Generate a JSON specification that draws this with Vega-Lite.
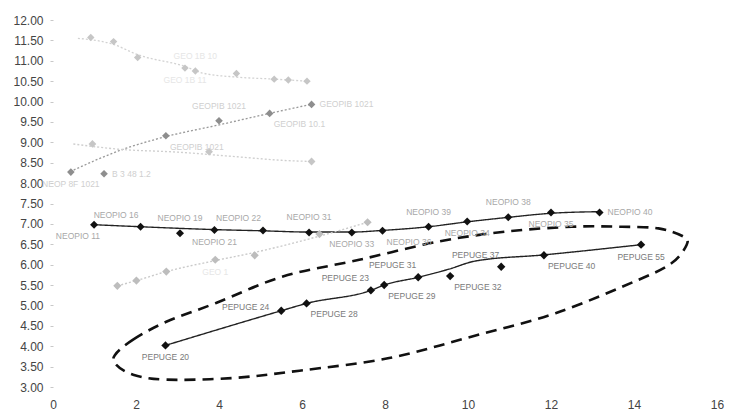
{
  "$schema": "https://vega.github.io/schema/vega-lite/v6.json",
  "width": 664,
  "height": 367,
  "autosize": "none",
  "padding": {"left": 53, "top": 20, "right": 12, "bottom": 24},
  "background": "white",
  "config": {
    "view": {"stroke": null},
    "axis": {"grid": false, "domain": false, "labelFont": "Liberation Sans", "labelFontSize": 12, "labelColor": "#444", "title": null}
  },
  "datasets": {
    "pts": [
      {"s": "A", "x": 0.91, "y": 11.57, "label": "", "pos": "none"},
      {"s": "A", "x": 1.46, "y": 11.47, "label": "", "pos": "none"},
      {"s": "A", "x": 2.04, "y": 11.08, "label": "", "pos": "none"},
      {"s": "A", "x": 3.18, "y": 10.82, "label": "GEO 1B 11", "pos": "below"},
      {"s": "A", "x": 3.43, "y": 10.75, "label": "GEO 1B 10", "pos": "above"},
      {"s": "A", "x": 4.42, "y": 10.69, "label": "", "pos": "none"},
      {"s": "A", "x": 5.33, "y": 10.55, "label": "", "pos": "none"},
      {"s": "A", "x": 5.67, "y": 10.53, "label": "", "pos": "none"},
      {"s": "A", "x": 6.12, "y": 10.50, "label": "", "pos": "none"},
      {"s": "B", "x": 0.43, "y": 8.27, "label": "NEOP 8F 1021", "pos": "below"},
      {"s": "B", "x": 1.23, "y": 8.23, "label": "B 3 48 1.2", "pos": "right"},
      {"s": "B", "x": 2.72, "y": 9.16, "label": "GEOPIB 1021", "pos": "belowright"},
      {"s": "B", "x": 4.00, "y": 9.53, "label": "GEOPIB 1021", "pos": "above"},
      {"s": "B", "x": 5.22, "y": 9.71, "label": "GEOPIB 10.1", "pos": "belowright"},
      {"s": "B", "x": 6.23, "y": 9.93, "label": "GEOPIB 1021", "pos": "right"},
      {"s": "C", "x": 0.95, "y": 8.96, "label": "", "pos": "none"},
      {"s": "C", "x": 3.76, "y": 8.77, "label": "", "pos": "none"},
      {"s": "C", "x": 6.23, "y": 8.53, "label": "", "pos": "none"},
      {"s": "D", "x": 0.99, "y": 6.98, "label": "NEOPIO 11", "pos": "belowleft"},
      {"s": "D", "x": 2.11, "y": 6.93, "label": "NEOPIO 16", "pos": "aboveleft"},
      {"s": "D", "x": 3.06, "y": 6.77, "label": "NEOPIO 19", "pos": "above"},
      {"s": "D", "x": 3.89, "y": 6.85, "label": "NEOPIO 21", "pos": "below"},
      {"s": "D", "x": 5.06, "y": 6.84, "label": "NEOPIO 22", "pos": "aboveleft"},
      {"s": "D", "x": 6.17, "y": 6.79, "label": "NEOPIO 31", "pos": "above"},
      {"s": "D", "x": 7.20, "y": 6.79, "label": "NEOPIO 33", "pos": "below"},
      {"s": "D", "x": 7.94, "y": 6.83, "label": "NEOPIO 36", "pos": "belowright"},
      {"s": "D", "x": 9.05, "y": 6.93, "label": "NEOPIO 39", "pos": "above"},
      {"s": "D", "x": 9.98, "y": 7.06, "label": "NEOPIO 34", "pos": "below"},
      {"s": "D", "x": 10.97, "y": 7.16, "label": "NEOPIO 38", "pos": "above"},
      {"s": "D", "x": 12.00, "y": 7.28, "label": "NEOPIO 35", "pos": "below"},
      {"s": "D", "x": 13.17, "y": 7.28, "label": "NEOPIO 40", "pos": "right"},
      {"s": "E", "x": 1.55, "y": 5.48, "label": "", "pos": "none"},
      {"s": "E", "x": 2.01, "y": 5.61, "label": "", "pos": "none"},
      {"s": "E", "x": 2.73, "y": 5.83, "label": "", "pos": "none"},
      {"s": "E", "x": 3.91, "y": 6.12, "label": "GEO 1", "pos": "below"},
      {"s": "E", "x": 4.86, "y": 6.23, "label": "", "pos": "none"},
      {"s": "E", "x": 6.42, "y": 6.75, "label": "", "pos": "none"},
      {"s": "E", "x": 7.58, "y": 7.04, "label": "", "pos": "none"},
      {"s": "F", "x": 2.71, "y": 4.02, "label": "PEPUGE 20", "pos": "below"},
      {"s": "F", "x": 5.50, "y": 4.87, "label": "PEPUGE 24", "pos": "left"},
      {"s": "F", "x": 6.11, "y": 5.05, "label": "PEPUGE 28", "pos": "belowright"},
      {"s": "F", "x": 7.66, "y": 5.37, "label": "PEPUGE 23", "pos": "aboveleft"},
      {"s": "F", "x": 7.98, "y": 5.50, "label": "PEPUGE 29", "pos": "belowright"},
      {"s": "F", "x": 8.80, "y": 5.69, "label": "PEPUGE 31", "pos": "aboveleft"},
      {"s": "F", "x": 9.57, "y": 5.72, "label": "PEPUGE 32", "pos": "belowright"},
      {"s": "F", "x": 10.80, "y": 5.95, "label": "PEPUGE 37", "pos": "aboveleft"},
      {"s": "F", "x": 11.83, "y": 6.23, "label": "PEPUGE 40", "pos": "belowright"},
      {"s": "F", "x": 14.17, "y": 6.49, "label": "PEPUGE 55", "pos": "below"}
    ],
    "trend": [
      {"s": "A", "i": 1, "x": 0.6, "y": 11.55},
      {"s": "A", "i": 2, "x": 1.46, "y": 11.4},
      {"s": "A", "i": 3, "x": 2.04, "y": 11.15},
      {"s": "A", "i": 4, "x": 3.18, "y": 10.86},
      {"s": "A", "i": 5, "x": 3.6, "y": 10.7},
      {"s": "A", "i": 6, "x": 4.42, "y": 10.6},
      {"s": "A", "i": 7, "x": 5.33, "y": 10.55},
      {"s": "A", "i": 8, "x": 6.12, "y": 10.5},
      {"s": "B", "i": 1, "x": 0.41, "y": 8.28},
      {"s": "B", "i": 2, "x": 1.69, "y": 8.83},
      {"s": "B", "i": 3, "x": 2.72, "y": 9.14},
      {"s": "B", "i": 4, "x": 4.01, "y": 9.43},
      {"s": "B", "i": 5, "x": 5.22, "y": 9.71},
      {"s": "B", "i": 6, "x": 6.26, "y": 9.94},
      {"s": "C", "i": 1, "x": 0.49, "y": 8.96},
      {"s": "C", "i": 2, "x": 1.6, "y": 8.83},
      {"s": "C", "i": 3, "x": 3.0, "y": 8.76},
      {"s": "C", "i": 4, "x": 4.5, "y": 8.64},
      {"s": "C", "i": 5, "x": 5.5, "y": 8.56},
      {"s": "C", "i": 6, "x": 6.23, "y": 8.53},
      {"s": "D", "i": 1, "x": 0.99, "y": 6.98},
      {"s": "D", "i": 2, "x": 2.11, "y": 6.93},
      {"s": "D", "i": 3, "x": 3.89, "y": 6.86},
      {"s": "D", "i": 4, "x": 5.06, "y": 6.83},
      {"s": "D", "i": 5, "x": 6.17, "y": 6.8},
      {"s": "D", "i": 6, "x": 7.2, "y": 6.8},
      {"s": "D", "i": 7, "x": 7.94, "y": 6.84},
      {"s": "D", "i": 8, "x": 9.05, "y": 6.93},
      {"s": "D", "i": 9, "x": 9.98, "y": 7.05},
      {"s": "D", "i": 10, "x": 10.97, "y": 7.16},
      {"s": "D", "i": 11, "x": 12.0, "y": 7.26},
      {"s": "D", "i": 12, "x": 13.17, "y": 7.3},
      {"s": "E", "i": 1, "x": 1.55, "y": 5.48},
      {"s": "E", "i": 2, "x": 2.01, "y": 5.61},
      {"s": "E", "i": 3, "x": 2.73, "y": 5.83},
      {"s": "E", "i": 4, "x": 3.91, "y": 6.1},
      {"s": "E", "i": 5, "x": 4.86, "y": 6.3},
      {"s": "E", "i": 6, "x": 6.42, "y": 6.7},
      {"s": "E", "i": 7, "x": 7.58, "y": 7.04},
      {"s": "F", "i": 1, "x": 2.71, "y": 4.02},
      {"s": "F", "i": 2, "x": 5.5, "y": 4.87},
      {"s": "F", "i": 3, "x": 6.11, "y": 5.05},
      {"s": "F", "i": 4, "x": 7.66, "y": 5.37},
      {"s": "F", "i": 5, "x": 7.98, "y": 5.5},
      {"s": "F", "i": 6, "x": 8.8, "y": 5.69},
      {"s": "F", "i": 7, "x": 9.54, "y": 5.89},
      {"s": "F", "i": 8, "x": 10.18, "y": 6.09},
      {"s": "F", "i": 9, "x": 11.83, "y": 6.24},
      {"s": "F", "i": 10, "x": 14.17, "y": 6.49}
    ],
    "ellipse": [
      {"i": 1, "x": 1.49, "y": 3.78},
      {"i": 2, "x": 1.93, "y": 4.16},
      {"i": 3, "x": 2.73, "y": 4.6},
      {"i": 4, "x": 3.93, "y": 5.06},
      {"i": 5, "x": 5.54, "y": 5.71},
      {"i": 6, "x": 7.38, "y": 6.12},
      {"i": 7, "x": 9.3, "y": 6.57},
      {"i": 8, "x": 10.91, "y": 6.81},
      {"i": 9, "x": 12.51, "y": 6.93},
      {"i": 10, "x": 13.71, "y": 6.93},
      {"i": 11, "x": 14.59, "y": 6.89},
      {"i": 12, "x": 15.19, "y": 6.69},
      {"i": 13, "x": 15.27, "y": 6.49},
      {"i": 14, "x": 14.91, "y": 6.04},
      {"i": 15, "x": 14.11, "y": 5.63},
      {"i": 16, "x": 12.11, "y": 4.81},
      {"i": 17, "x": 10.1, "y": 4.24},
      {"i": 18, "x": 8.1, "y": 3.71},
      {"i": 19, "x": 5.94, "y": 3.4},
      {"i": 20, "x": 4.33, "y": 3.22},
      {"i": 21, "x": 2.73, "y": 3.18},
      {"i": 22, "x": 1.93, "y": 3.3},
      {"i": 23, "x": 1.52, "y": 3.55}
    ]
  },
  "encoding": {
    "x": {"field": "x", "type": "quantitative", "scale": {"domain": [0, 16], "nice": false}, "axis": {"values": [0, 2, 4, 6, 8, 10, 12, 14, 16], "ticks": false, "labelPadding": 12, "labelFlush": false}},
    "y": {"field": "y", "type": "quantitative", "scale": {"domain": [3, 12], "nice": false, "zero": false}, "axis": {"values": [3, 3.5, 4, 4.5, 5, 5.5, 6, 6.5, 7, 7.5, 8, 8.5, 9, 9.5, 10, 10.5, 11, 11.5, 12], "format": ".2f", "tickSize": 3, "tickColor": "#c8c8c8", "labelPadding": 7}}
  },
  "layer": [
    {
      "data": {"name": "trend"},
      "mark": {"type": "line", "interpolate": "monotone"},
      "encoding": {
        "detail": {"field": "s"},
        "order": {"field": "i", "type": "quantitative"},
        "color": {"field": "s", "type": "nominal", "scale": {"domain": ["A", "B", "C", "D", "E", "F"], "range": ["#d2d2d2", "#9a9a9a", "#cfcfcf", "#222222", "#cacaca", "#222222"]}, "legend": null},
        "strokeDash": {"field": "s", "type": "nominal", "scale": {"domain": ["A", "B", "C", "D", "E", "F"], "range": [[2, 2], [2, 2], [2, 2], [1, 0], [2, 2], [1, 0]]}, "legend": null},
        "strokeWidth": {"field": "s", "type": "nominal", "scale": {"domain": ["A", "B", "C", "D", "E", "F"], "range": [1.3, 1.4, 1.3, 1.5, 1.3, 1.3]}, "legend": null}
      }
    },
    {
      "data": {"name": "ellipse"},
      "mark": {"type": "line", "interpolate": "cardinal-closed", "color": "#111", "strokeWidth": 2.6, "strokeDash": [11, 7]},
      "encoding": {"order": {"field": "i", "type": "quantitative"}}
    },
    {
      "data": {"name": "pts"},
      "mark": {"type": "point", "shape": "diamond", "filled": true, "opacity": 1},
      "encoding": {
        "color": {"field": "s", "type": "nominal", "scale": {"domain": ["A", "B", "C", "D", "E", "F"], "range": ["#c6c6c6", "#8e8e8e", "#c6c6c6", "#111111", "#bdbdbd", "#111111"]}, "legend": null},
        "size": {"field": "s", "type": "nominal", "scale": {"domain": ["A", "B", "C", "D", "E", "F"], "range": [55, 70, 55, 80, 55, 80]}, "legend": null}
      }
    },
    {
      "data": {"name": "pts"},
      "transform": [{"filter": "datum.pos === 'above'"}],
      "mark": {"type": "text", "font": "Liberation Sans", "fontSize": 8.5, "align": "center", "baseline": "middle", "dy": -15},
      "encoding": {"text": {"field": "label"}, "color": {"condition": [{"test": "datum.s === 'F'", "value": "#7a7a7a"}, {"test": "datum.s === 'D'", "value": "#a8a8a8"}, {"test": "datum.s === 'B'", "value": "#cfcfcf"}], "value": "#e6e6e6"}}
    },
    {
      "data": {"name": "pts"},
      "transform": [{"filter": "datum.pos === 'below'"}],
      "mark": {"type": "text", "font": "Liberation Sans", "fontSize": 8.5, "align": "center", "baseline": "middle", "dy": 12},
      "encoding": {"text": {"field": "label"}, "color": {"condition": [{"test": "datum.s === 'F'", "value": "#7a7a7a"}, {"test": "datum.s === 'D'", "value": "#a8a8a8"}, {"test": "datum.s === 'B'", "value": "#cfcfcf"}], "value": "#e6e6e6"}}
    },
    {
      "data": {"name": "pts"},
      "transform": [{"filter": "datum.pos === 'left'"}],
      "mark": {"type": "text", "font": "Liberation Sans", "fontSize": 8.5, "align": "right", "baseline": "middle", "dx": -12, "dy": -4},
      "encoding": {"text": {"field": "label"}, "color": {"condition": [{"test": "datum.s === 'F'", "value": "#7a7a7a"}, {"test": "datum.s === 'D'", "value": "#a8a8a8"}, {"test": "datum.s === 'B'", "value": "#cfcfcf"}], "value": "#e6e6e6"}}
    },
    {
      "data": {"name": "pts"},
      "transform": [{"filter": "datum.pos === 'right'"}],
      "mark": {"type": "text", "font": "Liberation Sans", "fontSize": 8.5, "align": "left", "baseline": "middle", "dx": 8},
      "encoding": {"text": {"field": "label"}, "color": {"condition": [{"test": "datum.s === 'F'", "value": "#7a7a7a"}, {"test": "datum.s === 'D'", "value": "#a8a8a8"}, {"test": "datum.s === 'B'", "value": "#cfcfcf"}], "value": "#e6e6e6"}}
    },
    {
      "data": {"name": "pts"},
      "transform": [{"filter": "datum.pos === 'aboveleft'"}],
      "mark": {"type": "text", "font": "Liberation Sans", "fontSize": 8.5, "align": "right", "baseline": "middle", "dx": -2, "dy": -12},
      "encoding": {"text": {"field": "label"}, "color": {"condition": [{"test": "datum.s === 'F'", "value": "#7a7a7a"}, {"test": "datum.s === 'D'", "value": "#a8a8a8"}, {"test": "datum.s === 'B'", "value": "#cfcfcf"}], "value": "#e6e6e6"}}
    },
    {
      "data": {"name": "pts"},
      "transform": [{"filter": "datum.pos === 'belowright'"}],
      "mark": {"type": "text", "font": "Liberation Sans", "fontSize": 8.5, "align": "left", "baseline": "middle", "dx": 4, "dy": 11},
      "encoding": {"text": {"field": "label"}, "color": {"condition": [{"test": "datum.s === 'F'", "value": "#7a7a7a"}, {"test": "datum.s === 'D'", "value": "#a8a8a8"}, {"test": "datum.s === 'B'", "value": "#cfcfcf"}], "value": "#e6e6e6"}}
    },
    {
      "data": {"name": "pts"},
      "transform": [{"filter": "datum.pos === 'belowleft'"}],
      "mark": {"type": "text", "font": "Liberation Sans", "fontSize": 8.5, "align": "right", "baseline": "middle", "dx": 6, "dy": 11},
      "encoding": {"text": {"field": "label"}, "color": {"condition": [{"test": "datum.s === 'F'", "value": "#7a7a7a"}, {"test": "datum.s === 'D'", "value": "#a8a8a8"}, {"test": "datum.s === 'B'", "value": "#cfcfcf"}], "value": "#e6e6e6"}}
    }
  ],
  "resolve": {"scale": {"color": "independent"}}
}
